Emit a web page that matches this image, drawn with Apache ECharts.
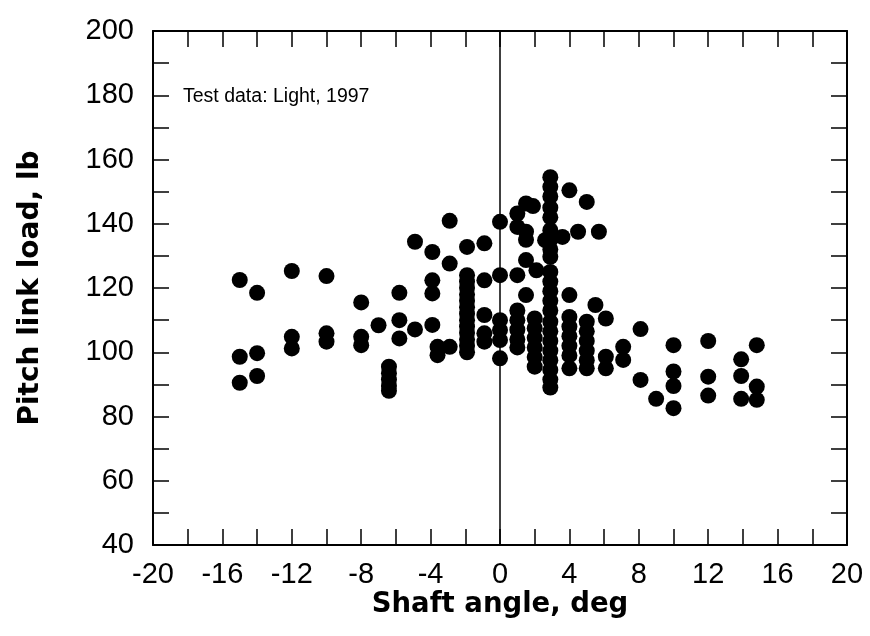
<!DOCTYPE html>
<html>
<head>
<meta charset="utf-8">
<script src="https://cdn.jsdelivr.net/npm/echarts@6/dist/echarts.min.js"></script>
<style>
html,body{margin:0;padding:0;background:#fff;}
#chart{width:870px;height:636px;}
</style>
</head>
<body>
<div id="chart"></div>
<script>
// Shaft angle (deg) values of measured points
const shaftAngle = [
  -15,-15,-15,
  -14,-14,-14,
  -12,-12,-12,
  -10,-10,-10,
  -8,-8,-8,
  -7,
  -6.4,-6.4,-6.4,-6.4,-6.4,
  -5.8,-5.8,-5.8,
  -4.9,-4.9,
  -3.9,-3.9,-3.9,-3.9,
  -3.6,-3.6,
  -2.9,-2.9,-2.9,
  -1.9,-1.9,-1.9,-1.9,-1.9,-1.9,-1.9,-1.9,-1.9,-1.9,-1.9,-1.9,-1.9,-1.9,
  -0.9,-0.9,-0.9,-0.9,-0.9,
  0,0,0,0,0,0,
  1,1,1,1,1,1,1,1,
  1.5,1.9,1.5,1.5,1.5,2.1,1.5,
  2,2,2,2,2,2,
  2.6,
  2.9,2.9,2.9,2.9,2.9,2.9,2.9,2.9,2.9,2.9,2.9,2.9,2.9,2.9,2.9,2.9,2.9,2.9,2.9,2.9,2.9,2.9,
  4,3.6,4,4,4,4,4,4,4,
  5,4.5,5.7,5,5,5,5,5,5,
  5.5,6.1,6.1,6.1,
  7.1,7.1,
  8.1,8.1,
  9,
  10,10,10,10,
  12,12,12,
  13.9,13.9,13.9,
  14.8,14.8,14.8
];
// Pitch link load (lb) values, same order
const pitchLinkLoad = [
  122.5,98.6,90.5,
  118.5,99.7,92.6,
  125.3,104.8,101.2,
  123.7,105.9,103.3,
  115.5,104.8,102.2,
  108.4,
  95.5,93.5,91.5,89.5,88,
  118.5,110,104.3,
  134.4,107.1,
  131.2,122.4,118.3,108.5,
  101.7,99.1,
  140.9,127.6,101.7,
  132.8,124,122,120,118,116,114,112,110,108,106,104,102,100,
  133.9,122.4,111.6,105.9,103.3,
  140.6,124,110,106.9,103.8,98.1,
  143.2,139,124,113,110,107,104,101.5,
  146.3,145.5,137.5,135,128.7,125.5,117.8,
  110.5,107.5,104.5,101.5,98.5,95.5,
  134.9,
  154.5,151.5,148.5,145,142,138,135,132,129.7,125,122,119,116,113,109.5,106.5,103.5,100.5,97.5,94.5,91.5,89,
  150.4,135.9,117.8,111,108,105,102,99,95,
  146.8,137.5,137.5,109.5,106.5,103.5,100.5,97.5,95,
  114.7,110.5,98.6,95,
  101.7,97.6,
  107.2,91.4,
  85.5,
  102.2,94,89.5,82.6,
  103.5,92.4,86.5,
  97.8,92.6,85.5,
  102.2,89.3,85.2
];
const xTickLabels = [-20,-16,-12,-8,-4,0,4,8,12,16,20];
const yTickLabels = [40,60,80,100,120,140,160,180,200];
const annotation = 'Test data: Light, 1997';

const points = shaftAngle.map((x, i) => [x, pitchLinkLoad[i]]);
const font = '"Liberation Sans", Arial, Helvetica, sans-serif';
const titleFont = '"DejaVu Sans", "Liberation Sans", Arial, sans-serif';

const chart = echarts.init(document.getElementById('chart'), null, {renderer: 'canvas'});
const tickStyle = {show: true, inside: true, length: 16, lineStyle: {color: '#000', width: 1.5}};
const lineStyle = {show: true, onZero: false, lineStyle: {color: '#000', width: 2}};

chart.setOption({
  animation: false,
  backgroundColor: '#fff',
  grid: {left: 153, right: 23, top: 31, bottom: 91, containLabel: false},
  xAxis: [{
    type: 'value', min: -20, max: 20, interval: 2, position: 'bottom',
    axisLine: lineStyle, axisTick: tickStyle, splitLine: {show: false},
    axisLabel: {
      color: '#000', fontSize: 29, fontFamily: font, margin: 15,
      formatter: v => xTickLabels.includes(v) ? String(v) : ''
    },
    name: 'Shaft angle, deg', nameLocation: 'middle', nameGap: 46, nameMoveOverlap: false,
    nameTextStyle: {color: '#000', fontSize: 27.5, fontWeight: 'bold', fontFamily: titleFont}
  }, {
    type: 'value', min: -20, max: 20, interval: 2, position: 'top',
    axisLine: lineStyle, axisTick: tickStyle, splitLine: {show: false},
    axisLabel: {show: false}
  }],
  yAxis: [{
    type: 'value', min: 40, max: 200, interval: 10, position: 'left',
    axisLine: lineStyle, axisTick: tickStyle, splitLine: {show: false},
    axisLabel: {
      color: '#000', fontSize: 29, fontFamily: font, margin: 19,
      formatter: v => yTickLabels.includes(v) ? String(v) : ''
    },
    name: 'Pitch link load, lb', nameLocation: 'middle', nameGap: 108, nameRotate: 90,
    nameTextStyle: {color: '#000', fontSize: 28, fontWeight: 'bold', fontFamily: titleFont}
  }, {
    type: 'value', min: 40, max: 200, interval: 10, position: 'right',
    axisLine: lineStyle, axisTick: tickStyle, splitLine: {show: false},
    axisLabel: {show: false}
  }],
  graphic: [{
    type: 'text', left: 183, top: 87,
    style: {text: annotation, fill: '#000', fontSize: 19.5, fontFamily: font}
  }],
  series: [{
    type: 'scatter', xAxisIndex: 0, yAxisIndex: 0,
    data: points, symbol: 'circle', symbolSize: 16,
    itemStyle: {color: '#000', opacity: 1},
    markLine: {
      silent: true, symbol: ['none', 'none'], label: {show: false},
      lineStyle: {color: '#000', width: 1.5, type: 'solid'},
      data: [{xAxis: 0}]
    }
  }]
});
</script>
</body>
</html>
